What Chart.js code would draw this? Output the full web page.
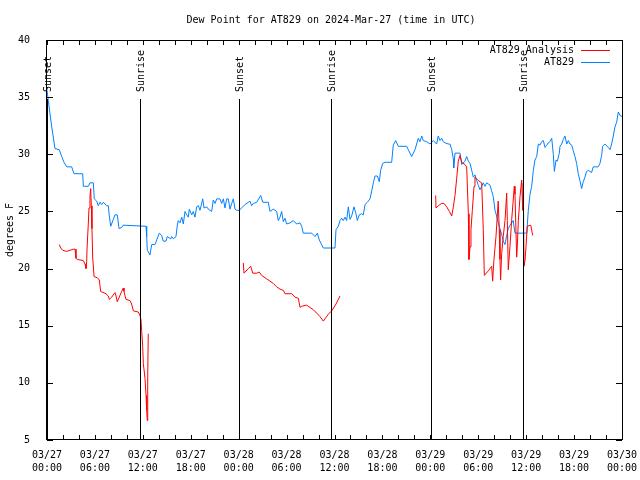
<!DOCTYPE html>
<html>
<head>
<meta charset="utf-8">
<title>Dew Point for AT829</title>
<script src="https://cdn.jsdelivr.net/npm/chart.js@4/dist/chart.umd.min.js"></script>
<style>
	html, body { margin: 0; padding: 0; background: #fff; }
	#wrap { width: 640px; height: 480px; position: relative; }
</style>
</head>
<body>
<div id="wrap"><canvas id="chart" width="640" height="480"></canvas></div>
<script>
'use strict';

var chartTitle = 'Dew Point for AT829 on 2024-Mar-27 (time in UTC)';
var yLabel = 'degrees F';

// x in hours since 03/27 00:00 UTC
var tickLabels = [
	['03/27', '00:00'], ['03/27', '06:00'], ['03/27', '12:00'], ['03/27', '18:00'],
	['03/28', '00:00'], ['03/28', '06:00'], ['03/28', '12:00'], ['03/28', '18:00'],
	['03/29', '00:00'], ['03/29', '06:00'], ['03/29', '12:00'], ['03/29', '18:00'],
	['03/30', '00:00']
];

var sunNames = ['Sunset', 'Sunrise', 'Sunset', 'Sunrise', 'Sunset', 'Sunrise'];
var sunHours = [0, 11.65, 24.05, 35.62, 48.05, 59.65];

// AT829 observations
var obsHours = [
	0, 0.16, 0.59, 1.0, 1.54, 1.84, 2.13, 2.47, 3.09, 3.38, 4.47, 4.55, 5.17, 5.38, 5.8, 5.92,
	6.22, 6.42, 6.64, 6.85, 7.05, 7.47, 7.68, 7.8, 7.98, 8.3, 8.51, 8.8, 9.02, 9.35, 9.55, 12.4,
	12.48, 12.56, 12.9, 13.11, 13.52, 13.74, 14.06, 14.36, 14.56, 14.9, 15.06, 15.49, 15.61, 15.82,
	16.15, 16.32, 16.44, 16.65, 16.87, 17.07, 17.28, 17.49, 17.69, 17.82, 18.12, 18.32, 18.53, 18.74,
	18.95, 19.16, 19.5, 19.66, 20.0, 20.2, 20.62, 20.82, 21.04, 21.25, 21.66, 21.87, 22.08, 22.29,
	22.5, 22.7, 22.92, 23.13, 23.33, 23.54, 23.75, 24.08, 24.79, 25.42, 25.63, 25.83, 26.25, 26.76,
	27.01, 27.71, 27.92, 28.34, 28.76, 28.96, 29.18, 29.38, 29.59, 29.8, 30.0, 30.43, 30.84, 31.26,
	31.68, 31.89, 32.09, 33.15, 33.56, 33.85, 34.1, 34.6, 36.06, 36.19, 36.48, 36.69, 36.9, 37.1,
	37.31, 37.52, 37.73, 37.94, 38.15, 38.44, 38.69, 38.86, 39.1, 39.4, 39.61, 39.82, 40.11, 40.45,
	40.66, 40.86, 41.07, 41.36, 41.61, 41.78, 42.03, 42.32, 43.16, 43.36, 43.66, 43.99, 45.04, 45.24,
	45.66, 46.08, 46.49, 46.7, 46.92, 47.12, 47.54, 47.96, 48.37, 48.79, 48.99, 49.21, 49.42, 49.62,
	49.84, 50.25, 50.46, 50.68, 50.88, 50.93, 51.09, 51.72, 51.93, 52.34, 52.55, 52.76, 52.97, 53.18,
	53.38, 53.59, 53.8, 54.0, 54.22, 54.43, 54.63, 54.84, 55.06, 55.47, 55.68, 55.88, 56.1, 56.3,
	56.5, 56.93, 57.13, 57.35, 57.56, 57.76, 57.97, 58.18, 58.38, 58.6, 60.07, 60.27, 60.48, 60.69,
	60.9, 61.1, 61.32, 61.52, 61.73, 61.94, 62.15, 62.36, 62.57, 62.77, 62.98, 63.2, 63.4, 63.53,
	63.74, 63.9, 64.15, 64.24, 64.45, 64.65, 64.86, 65.08, 65.28, 65.49, 65.7, 65.9, 66.11, 66.32,
	66.52, 66.73, 66.94, 67.15, 67.36, 67.56, 67.77, 68.19, 68.4, 69.02, 69.24, 69.45, 69.57, 69.86,
	70.28, 70.49, 70.7, 70.91, 71.12, 71.33, 71.54, 71.75, 72
];
var obsValues = [
	35.6, 34.7, 32.4, 30.5, 30.4, 29.8, 29.3, 28.9, 28.9, 28.3, 28.3, 27.2, 27.2, 27.5, 27.5, 26.1,
	25.9, 25.5, 25.8, 25.6, 25.8, 25.5, 25.5, 24.6, 23.7, 24.3, 24.7, 24.7, 23.5, 23.6, 23.8, 23.7,
	22.8, 21.6, 21.2, 22.1, 22.1, 22.5, 23.1, 22.9, 22.4, 22.4, 22.8, 22.6, 22.8, 22.6,
	22.8, 23.8, 24.2, 24.0, 24.5, 23.9, 25.0, 24.7, 24.5, 25.2, 24.7, 25.0, 24.5, 25.4,
	25.5, 25.1, 26.1, 25.3, 25.4, 25.2, 25.0, 26.0, 25.7, 26.1, 26.1, 25.7, 26.1, 25.3,
	26.1, 26.1, 25.2, 25.7, 26.1, 25.2, 25.1, 25.1, 25.6, 25.9, 25.5, 25.7, 25.8, 26.4,
	25.8, 25.8, 25.0, 25.2, 25.0, 24.2, 24.5, 25.0, 24.1, 24.4, 23.9, 24.0, 24.2, 23.9,
	24.0, 23.7, 23.1, 23.1, 22.8, 23.1, 22.5, 21.8, 21.8, 23.4, 23.7, 24.2, 24.4, 24.2,
	24.5, 24.2, 25.4, 24.3, 24.6, 25.4, 24.8, 24.2, 24.7, 24.8, 24.7, 25.6, 25.8, 26.1,
	26.8, 27.5, 28.1, 28.1, 27.6, 28.6, 29.2, 29.3, 29.3, 30.8, 31.2, 30.7, 30.7, 30.4,
	29.8, 30.4, 31.4, 31.1, 31.6, 31.2, 31.1, 30.9, 31.2, 30.9, 31.6, 31.2, 31.4, 31.1,
	31.0, 30.9, 30.9, 30.4, 29.6, 28.8, 30.1, 30.1, 29.1, 29.4, 29.8, 29.4, 29.2, 28.6,
	28.0, 28.2, 27.7, 27.3, 26.9, 27.2, 27.5, 27.2, 27.5, 27.3, 26.8, 26.3, 25.1, 24.6,
	24.0, 23.0, 22.4, 22.1, 22.9, 23.5, 23.8, 24.0, 24.2, 23.1, 23.1, 25.1, 26.5, 27.2,
	28.6, 29.5, 29.8, 30.9, 30.8, 31.1, 31.2, 30.6, 30.8, 31.0, 31.1, 31.4, 30.0, 28.5,
	29.5, 29.4, 30.1, 30.7, 30.9, 31.3, 31.6, 30.9, 31.2, 30.9, 30.8, 30.3, 29.8, 29.2,
	28.3, 27.7, 27.0, 27.6, 28.0, 28.5, 28.6, 28.4, 28.9, 28.9, 29.2, 29.9, 30.7, 30.9,
	30.6, 30.4, 30.9, 31.6, 32.4, 32.8, 33.7, 33.4, 33.3
];

// AT829 Analysis (null = gap)
var anaHours = [
	1.54, 1.72, 1.97, 2.47, 2.88, 3.29, 3.51, 3.63, 3.79, 4.55, 4.76, 4.88, 4.97, 5.01, 5.17, 5.26,
	5.38, 5.47, 5.55, 5.63, 5.72, 5.89, 6.3, 6.55, 6.72, 7.39, 7.68, 7.8, 8.1, 8.51, 8.64, 8.8,
	9.05, 9.35, 9.55, 9.64, 9.89, 10.39, 10.6, 10.81, 11.43, 11.64, 11.77, 11.86, 11.98, 12.06,
	12.27, 12.4, 12.48, 12.56, 12.61, 12.68, 18,
	24.58, 24.67, 25.21, 25.51, 25.76, 26.26, 26.58, 26.88, 27.51, 27.92, 28.34, 28.76, 29.18, 29.59,
	29.8, 30.64, 31.05, 31.47, 31.68, 31.89, 32.51, 32.93, 33.35, 33.77, 34.18, 34.6, 34.81, 35.22,
	35.65, 36.19, 36.69, 42,
	48.67, 48.71, 49.0, 49.42, 49.71, 50.05, 50.38, 50.68, 50.88, 51.09, 51.3, 51.5, 51.72, 51.93,
	52.34, 52.55, 52.76, 52.84, 52.97, 53.09, 53.26, 53.47, 53.59, 54.0, 54.43, 54.63, 54.76, 55.26,
	55.68, 55.8, 55.97, 56.22, 56.5, 56.63, 56.72, 56.8, 56.93, 57.13, 57.35, 57.56, 57.64, 57.76,
	57.97, 58.18, 58.38, 58.51, 58.6, 58.81, 58.89, 59.02, 59.23, 59.44, 59.56, 59.64, 59.73, 59.86,
	59.98, 60.14, 60.57, 60.82
];
var anaValues = [
	22.1, 21.8, 21.6, 21.5, 21.6, 21.7, 21.7, 20.9, 20.8, 20.7, 20.4, 20.0, 20.6, 21.7, 23.9, 25.3,
	26.3, 27.0, 25.5, 23.5, 21.0, 19.3, 19.2, 19.0, 18.0, 17.8, 17.6, 17.3, 17.5, 17.9, 17.6, 17.1,
	17.5, 18.0, 18.3, 18.0, 17.3, 17.2, 16.9, 16.3, 16.2, 15.9, 15.5, 14.5, 13.2, 11.7,
	10.4, 8.9, 7.6, 6.7, 10.5, 14.3, null,
	20.5, 19.6, 20.0, 20.2, 19.6, 19.6, 19.7, 19.4, 19.1, 18.9, 18.7, 18.4, 18.2, 18.1,
	17.8, 17.8, 17.5, 17.4, 16.6, 16.7, 16.8, 16.6, 16.4, 16.1, 15.8, 15.4, 15.6, 16.0,
	16.3, 16.9, 17.6, null,
	26.4, 25.3, 25.5, 25.7, 25.7, 25.4, 25.0, 24.6, 25.4, 26.4, 27.9, 29.4, 29.9, 29.3,
	29.1, 28.9, 24.8, 20.8, 21.9, 23.4, 25.1, 27.2, 28.0, 27.7, 27.5, 23.4, 19.4, 19.8,
	20.2, 18.9, 20.8, 22.8, 25.9, 23.4, 20.8, 19.0, 21.3, 22.8, 24.2, 26.6, 24.2, 19.9,
	21.9, 24.2, 26.0, 27.2, 26.5, 21.0, 21.9, 24.2, 26.3, 27.75, 25.1, 27.5, 20.2, 20.75,
	21.9, 23.7, 23.8, 22.9
];

var FONT = '10px "DejaVu Sans Mono", monospace';

function toPoints(xs, ys) {
	var pts = [];
	for (var i = 0; i < xs.length; i++) pts.push({ x: xs[i], y: ys[i] });
	return pts;
}

// gnuplot-style frame, inward tics, sun lines, legend, labels
var decorPlugin = {
	id: 'decor',
	afterDatasetsDraw: function(chart) {
		var ctx = chart.ctx;
		var a = chart.chartArea;
		var xs = chart.scales.x, ys = chart.scales.y;
		var i, px, py;

		ctx.save();
		ctx.strokeStyle = '#000';
		ctx.lineWidth = 1;

		// frame
		ctx.strokeRect(Math.round(a.left) - 0.5, Math.round(a.top) + 0.5,
			Math.round(a.right - a.left) + 1, Math.round(a.bottom - a.top) - 1);

		// x tics every 2h, top and bottom
		ctx.beginPath();
		for (i = 0; i <= 72; i += 2) {
			px = Math.round(xs.getPixelForValue(i)) + 0.5;
			ctx.moveTo(px, a.bottom); ctx.lineTo(px, a.bottom - 5);
			ctx.moveTo(px, a.top); ctx.lineTo(px, a.top + 5);
		}
		// y tics every 5, left and right
		for (i = 5; i <= 40; i += 5) {
			py = Math.round(ys.getPixelForValue(i)) + 0.5;
			ctx.moveTo(a.left, py); ctx.lineTo(a.left + 6, py);
			ctx.moveTo(a.right, py); ctx.lineTo(a.right - 6, py);
		}
		ctx.stroke();

		// sunrise / sunset lines
		ctx.font = FONT;
		ctx.fillStyle = '#000';
		for (i = 0; i < sunHours.length; i++) {
			px = Math.round(xs.getPixelForValue(sunHours[i])) + 0.5;
			ctx.beginPath();
			ctx.moveTo(px, 99);
			ctx.lineTo(px, a.bottom);
			ctx.stroke();
			ctx.save();
			ctx.translate(px + 1, 92);
			ctx.rotate(-Math.PI / 2);
			ctx.textAlign = 'left';
			ctx.textBaseline = 'middle';
			ctx.fillText(sunNames[i], 0, 0);
			ctx.restore();
		}

		// title
		ctx.textAlign = 'center';
		ctx.textBaseline = 'middle';
		ctx.fillText(chartTitle, 331, 20);

		// y axis title
		ctx.save();
		ctx.translate(10, 230);
		ctx.rotate(-Math.PI / 2);
		ctx.fillText(yLabel, 0, 0);
		ctx.restore();

		// legend
		ctx.textAlign = 'right';
		chart.data.datasets.forEach(function(ds, k) {
			var ly = 50 + k * 12;
			ctx.fillStyle = '#000';
			ctx.fillText(ds.label, 574, ly);
			ctx.strokeStyle = ds.borderColor;
			ctx.beginPath();
			ctx.moveTo(581, ly + 0.5);
			ctx.lineTo(610, ly + 0.5);
			ctx.stroke();
		});

		ctx.restore();
	}
};

new Chart(document.getElementById('chart'), {
	type: 'line',
	data: {
		datasets: [
			{
				label: 'AT829 Analysis',
				data: toPoints(anaHours, anaValues),
				borderColor: '#ff0000',
				borderWidth: 1,
				pointRadius: 0,
				spanGaps: false,
				tension: 0
			},
			{
				label: 'AT829',
				data: toPoints(obsHours, obsValues),
				borderColor: '#0080ff',
				borderWidth: 1,
				pointRadius: 0,
				tension: 0
			}
		]
	},
	options: {
		responsive: false,
		animation: false,
		events: [],
		layout: { padding: { left: 0, top: 40, right: 18, bottom: 0 } },
		plugins: {
			legend: { display: false },
			title: { display: false },
			tooltip: { enabled: false }
		},
		scales: {
			x: {
				type: 'linear',
				min: 0,
				max: 72,
				grid: { display: false },
				border: { display: false },
				afterFit: function(s) {
					s.height = 40;
					s.paddingLeft = 0;
					s.paddingRight = 0;
				},
				afterBuildTicks: function(s) {
					s.ticks = tickLabels.map(function(t, i) { return { value: i * 6 }; });
				},
				ticks: {
					autoSkip: false,
					maxRotation: 0,
					padding: 1,
					color: '#000',
					font: { family: '"DejaVu Sans Mono", monospace', size: 10, lineHeight: 1.3 },
					callback: function(v) { return tickLabels[Math.round(v / 6)]; }
				}
			},
			y: {
				min: 5,
				max: 40,
				grid: { display: false },
				border: { display: false },
				afterFit: function(s) {
					s.width = 47;
					s.paddingTop = 0;
					s.paddingBottom = 0;
				},
				ticks: {
					stepSize: 5,
					padding: 9,
					color: '#000',
					font: { family: '"DejaVu Sans Mono", monospace', size: 10 }
				}
			}
		}
	},
	plugins: [decorPlugin]
});
</script>
</body>
</html>
